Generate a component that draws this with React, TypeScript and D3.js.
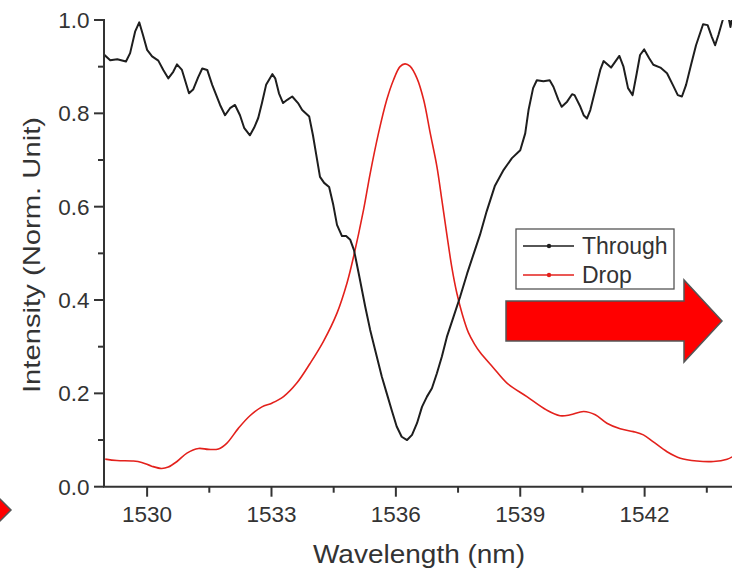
import React from 'react';
import * as d3 from 'd3';

// Through port (black)
const throughWavelength = [
  1528.96, 1529.11, 1529.28, 1529.49, 1529.59, 1529.71, 1529.81, 1529.90, 1530.00, 1530.12,
  1530.27, 1530.39, 1530.51, 1530.63, 1530.72, 1530.84, 1531.01, 1531.11, 1531.23, 1531.33,
  1531.45, 1531.57, 1531.76, 1531.88, 1532.00, 1532.12, 1532.24, 1532.34, 1532.48, 1532.58,
  1532.68, 1532.77, 1532.87, 1533.02, 1533.09, 1533.18, 1533.28, 1533.38, 1533.50, 1533.64,
  1533.74, 1533.91, 1534.00, 1534.08, 1534.17, 1534.27, 1534.39, 1534.49, 1534.58, 1534.70,
  1534.80, 1534.90, 1534.99, 1535.11, 1535.26, 1535.38, 1535.50, 1535.66, 1535.78, 1535.90,
  1536.02, 1536.14, 1536.27, 1536.39, 1536.51, 1536.63, 1536.75, 1536.87, 1536.99, 1537.11,
  1537.23, 1537.39, 1537.55, 1537.72, 1537.88, 1538.03, 1538.19, 1538.39, 1538.60, 1538.80,
  1539.00, 1539.12, 1539.20, 1539.31, 1539.40, 1539.56, 1539.71, 1539.80, 1539.92, 1540.00,
  1540.13, 1540.25, 1540.31, 1540.45, 1540.53, 1540.61, 1540.69, 1540.81, 1540.93, 1541.01,
  1541.19, 1541.39, 1541.49, 1541.60, 1541.71, 1541.81, 1541.89, 1541.99, 1542.11, 1542.21,
  1542.38, 1542.54, 1542.68, 1542.80, 1542.90, 1543.00, 1543.12, 1543.24, 1543.41, 1543.52,
  1543.62, 1543.70, 1543.78, 1543.88, 1543.97, 1544.07, 1544.16
];
const throughIntensity = [
  0.926, 0.914, 0.916, 0.911, 0.929, 0.975, 0.995, 0.968, 0.936, 0.922,
  0.913, 0.893, 0.875, 0.889, 0.905, 0.893, 0.843, 0.851, 0.877, 0.896,
  0.893, 0.861, 0.818, 0.796, 0.811, 0.818, 0.796, 0.769, 0.753, 0.769,
  0.790, 0.822, 0.861, 0.884, 0.875, 0.843, 0.822, 0.829, 0.836, 0.822,
  0.807, 0.793, 0.753, 0.711, 0.664, 0.651, 0.642, 0.604, 0.561, 0.537,
  0.537, 0.529, 0.507, 0.454, 0.386, 0.336, 0.293, 0.236, 0.200, 0.164,
  0.129, 0.107, 0.100, 0.111, 0.136, 0.171, 0.193, 0.211, 0.243, 0.279,
  0.321, 0.364, 0.407, 0.457, 0.500, 0.540, 0.590, 0.645, 0.679, 0.704,
  0.721, 0.757, 0.807, 0.854, 0.871, 0.869, 0.871, 0.857, 0.829, 0.814,
  0.825, 0.841, 0.839, 0.814, 0.796, 0.789, 0.807, 0.850, 0.893, 0.912,
  0.898, 0.923, 0.900, 0.854, 0.839, 0.886, 0.925, 0.937, 0.918, 0.904,
  0.898, 0.886, 0.861, 0.839, 0.836, 0.861, 0.904, 0.946, 0.991, 0.989,
  0.964, 0.946, 0.968, 0.999, 1.030, 0.985, 1.030
];

// Drop port (red)
const dropWavelength = [
  1528.99, 1529.27, 1529.67, 1529.87, 1530.11, 1530.35, 1530.51, 1530.72, 1530.96, 1531.24,
  1531.48, 1531.72, 1531.92, 1532.20, 1532.48, 1532.77, 1533.01, 1533.29, 1533.61, 1533.93,
  1534.25, 1534.58, 1534.82, 1534.98, 1535.22, 1535.38, 1535.58, 1535.78, 1535.94, 1536.10,
  1536.22, 1536.34, 1536.51, 1536.67, 1536.83, 1536.99, 1537.11, 1537.23, 1537.35, 1537.47,
  1537.60, 1537.75, 1537.90, 1538.03, 1538.35, 1538.68, 1539.16, 1539.64, 1539.96, 1540.21,
  1540.53, 1540.81, 1541.09, 1541.41, 1541.73, 1541.97, 1542.21, 1542.54, 1542.86, 1543.26,
  1543.66, 1543.99, 1544.11
];
const dropIntensity = [
  0.059, 0.056, 0.055, 0.052, 0.044, 0.039, 0.042, 0.054, 0.072, 0.082,
  0.080, 0.081, 0.093, 0.125, 0.152, 0.171, 0.179, 0.193, 0.222, 0.264,
  0.311, 0.372, 0.436, 0.493, 0.593, 0.671, 0.757, 0.829, 0.871, 0.900,
  0.906, 0.901, 0.875, 0.829, 0.757, 0.686, 0.614, 0.540, 0.470, 0.415,
  0.370, 0.330, 0.305, 0.288, 0.255, 0.222, 0.193, 0.164, 0.152, 0.154,
  0.161, 0.154, 0.136, 0.124, 0.118, 0.111, 0.096, 0.075, 0.061, 0.055,
  0.054, 0.059, 0.064
];

const xMajorTicks = [1530, 1533, 1536, 1539, 1542];
const xMinorTicks = [1531.5, 1534.5, 1537.5, 1540.5, 1543.5];
const yMajorTicks = [0, 0.2, 0.4, 0.6, 0.8, 1.0];
const yMinorTicks = [0.1, 0.3, 0.5, 0.7, 0.9];
const legendLabels = ['Through', 'Drop'];

const axisColor = '#333';
const black = '#1e1e1e';
const red = '#e3211c';
const font = '"Liberation Sans", Arial, Helvetica, sans-serif';

class Chart extends React.Component {
  node: SVGSVGElement | null = null;

  componentDidMount() {
    this.draw();
  }

  draw() {
    const width = 732, height = 572;
    const left = 104, top = 20, bottom = 486.7;

    const svg = d3.select(this.node);
    svg.selectAll('*').remove();

    const x = d3.scaleLinear().domain([1528.96, 1545]).range([left, 769]);
    const y = d3.scaleLinear().domain([0, 1]).range([bottom, top]);

    svg.append('defs')
      .append('clipPath').attr('id', 'plotClip')
      .append('rect')
      .attr('x', left).attr('y', top)
      .attr('width', width - left).attr('height', bottom - top);

    const through = throughWavelength.map((w, i) => [w, throughIntensity[i]] as [number, number]);
    const drop = dropWavelength.map((w, i) => [w, dropIntensity[i]] as [number, number]);

    const line = d3.line<[number, number]>().x(d => x(d[0])).y(d => y(d[1]));

    const plot = svg.append('g').attr('clip-path', 'url(#plotClip)');
    plot.append('path')
      .attr('d', line.curve(d3.curveCatmullRom)(drop) as string)
      .attr('fill', 'none').attr('stroke', red).attr('stroke-width', 1.6);
    plot.append('path')
      .attr('d', line.curve(d3.curveLinear)(through) as string)
      .attr('fill', 'none').attr('stroke', black).attr('stroke-width', 2)
      .attr('stroke-linejoin', 'round');

    // axes
    const axes = svg.append('g').attr('stroke', axisColor).attr('stroke-width', 2);
    axes.append('line').attr('x1', left).attr('x2', left).attr('y1', top - 1).attr('y2', bottom);
    axes.append('line').attr('x1', left - 1).attr('x2', width).attr('y1', bottom).attr('y2', bottom);

    axes.selectAll('.xMaj').data(xMajorTicks).enter().append('line')
      .attr('x1', d => x(d)).attr('x2', d => x(d)).attr('y1', bottom).attr('y2', bottom + 10);
    axes.selectAll('.xMin').data(xMinorTicks).enter().append('line')
      .attr('x1', d => x(d)).attr('x2', d => x(d)).attr('y1', bottom).attr('y2', bottom + 6);
    axes.selectAll('.yMaj').data(yMajorTicks).enter().append('line')
      .attr('x1', left - 10).attr('x2', left).attr('y1', d => y(d)).attr('y2', d => y(d));
    axes.selectAll('.yMin').data(yMinorTicks).enter().append('line')
      .attr('x1', left - 6).attr('x2', left).attr('y1', d => y(d)).attr('y2', d => y(d));

    const labels = svg.append('g').attr('fill', axisColor).style('font-family', font);
    labels.selectAll('.xLab').data(xMajorTicks).enter().append('text')
      .attr('x', d => x(d)).attr('y', 521.5)
      .attr('text-anchor', 'middle').style('font-size', '22.5px')
      .text(d => d3.format('d')(d));
    labels.selectAll('.yLab').data(yMajorTicks).enter().append('text')
      .attr('x', 89.5).attr('y', d => y(d)).attr('dy', '0.36em')
      .attr('text-anchor', 'end').style('font-size', '22.5px')
      .text(d => d3.format('.1f')(d));

    labels.append('text')
      .attr('x', 313).attr('y', 563)
      .attr('textLength', 212).attr('lengthAdjust', 'spacingAndGlyphs')
      .style('font-size', '25px')
      .text('Wavelength (nm)');
    labels.append('text')
      .attr('transform', 'translate(39.5,393) rotate(-90)')
      .attr('textLength', 276).attr('lengthAdjust', 'spacingAndGlyphs')
      .style('font-size', '24px')
      .text('Intensity (Norm. Unit)');

    // legend
    const legend = svg.append('g');
    legend.append('rect')
      .attr('x', 516).attr('y', 229).attr('width', 158).attr('height', 60)
      .attr('fill', 'white').attr('stroke', '#555').attr('stroke-width', 1.3);
    const colors = [black, red];
    legendLabels.forEach((name, i) => {
      const ly = 246 + i * 29;
      legend.append('line').attr('x1', 523).attr('x2', 574).attr('y1', ly).attr('y2', ly)
        .attr('stroke', colors[i]).attr('stroke-width', 1.5);
      legend.append('circle').attr('cx', 549).attr('cy', ly).attr('r', 2.2).attr('fill', colors[i]);
      legend.append('text').attr('x', 582).attr('y', ly + 8)
        .attr('fill', axisColor).style('font-family', font).style('font-size', '23px')
        .text(name);
    });

    // red arrows
    const arrow = (pts: number[][]) =>
      svg.append('polygon')
        .attr('points', pts.map(p => p.join(',')).join(' '))
        .attr('fill', '#ff0000').attr('stroke', '#555').attr('stroke-width', 1.5);
    arrow([[506, 301], [684, 301], [684, 280], [722, 321], [684, 362], [684, 341], [506, 341]]);
    arrow([[-40, 480], [-30, 480], [-30, 469], [11, 510], [-30, 551], [-30, 540], [-40, 540]]);
  }

  render() {
    return (
      <svg
        ref={n => { this.node = n; }}
        width={732}
        height={572}
        style={{ position: 'absolute', left: 0, top: 0, background: 'white' }}
      />
    );
  }
}

export default function App() {
  return <Chart />;
}
